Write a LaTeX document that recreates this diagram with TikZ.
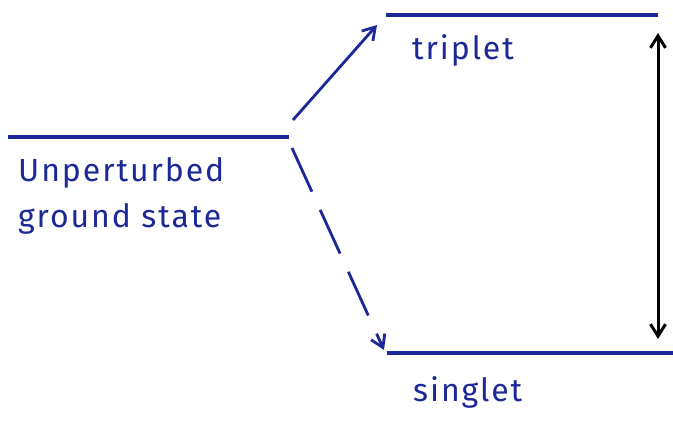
\documentclass[tikz,border=0pt]{standalone}
\usepackage{fontspec}
\setmainfont{Fira Sans}[LetterSpace=6]
\usetikzlibrary{arrows.meta}
\definecolor{ink}{RGB}{28,40,150}
\begin{document}
\begin{tikzpicture}[x=1pt,y=-1pt,
  level/.style={draw=ink,line width=3.2pt},
  trans/.style={draw=ink,line width=2.8pt,-{Straight Barb[length=12pt,width=15pt,line width=2.8pt]}},
  gap/.style={draw=black,line width=3pt,{Straight Barb[length=12pt,width=15pt,line width=3pt]}-{Straight Barb[length=12pt,width=15pt,line width=3pt]}},
  lbl/.style={text=ink,font=\fontsize{32}{46}\selectfont,inner sep=0pt,align=left}]
\useasboundingbox (0,0) rectangle (673,425);
% levels
\coordinate (g1) at (8,137);
\coordinate (g2) at (289,137);
\coordinate (t1) at (386,15);
\coordinate (t2) at (658,15);
\coordinate (s1) at (387,353);
\coordinate (s2) at (673,353);
\draw[level] (g1) -- (g2);
\draw[level] (t1) -- (t2);
\draw[level] (s1) -- (s2);
% transitions
\coordinate (a0) at (293,120);
\coordinate (a1) at (377,25);
\coordinate (d0) at (292,148);
\coordinate (d1) at (384,350);
\draw[trans] (a0) -- (a1);
\draw[trans,dash pattern=on 48pt off 20pt] (d0) -- (d1);
% splitting
\coordinate (v1) at (658,33);
\coordinate (v2) at (658,339);
\draw[gap] (v1) -- (v2);
% labels
\node[lbl,anchor=west] (trip) at (412,50) {triplet};
\node[lbl,anchor=west] (sing) at (413,392) {singlet};
\node[lbl,anchor=north west] (ugs) at (18,157) {Unperturbed\\ground state};
\end{tikzpicture}
\end{document}
